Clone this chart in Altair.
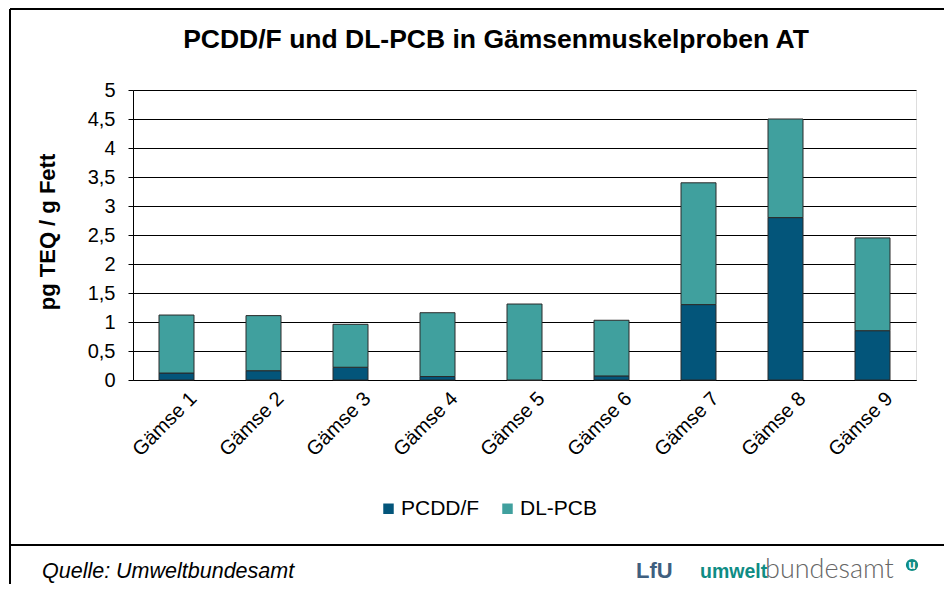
import altair as alt
import pandas as pd

categories = ["Gämse 1", "Gämse 2", "Gämse 3", "Gämse 4", "Gämse 5",
              "Gämse 6", "Gämse 7", "Gämse 8", "Gämse 9"]
pcdd_f = [0.12, 0.16, 0.22, 0.06, 0.0, 0.07, 1.30, 2.80, 0.85]
dl_pcb = [1.00, 0.95, 0.74, 1.10, 1.31, 0.96, 2.10, 1.70, 1.60]
series = ["PCDD/F", "DL-PCB"]
colors = ["#03557A", "#40A09E"]
y_ticks = [0, 0.5, 1, 1.5, 2, 2.5, 3, 3.5, 4, 4.5, 5]

rows = []
for c, a, b in zip(categories, pcdd_f, dl_pcb):
    rows.append({"cat": c, "series": "PCDD/F", "value": a, "ord": 0})
    rows.append({"cat": c, "series": "DL-PCB", "value": b, "ord": 1})
df = pd.DataFrame(rows)

FONT = "Liberation Sans"
W, H = 783, 290
PAD_L, PAD_T = 125, 82
TOT_W, TOT_H = 936, 576
PAD_R = TOT_W - PAD_L - W
PAD_B = TOT_H - PAD_T - H

bars = alt.Chart(df).mark_bar(size=35, stroke="#2a2a2a", strokeWidth=1).encode(
    x=alt.X("cat:N", sort=categories, title=None,
            axis=alt.Axis(labelAngle=-45, labelFont=FONT, labelFontSize=20,
                          labelColor="black", ticks=False, domainColor="black",
                          labelPadding=8, labelOffset=10)),
    y=alt.Y("value:Q", stack="zero", title=None,
            scale=alt.Scale(domain=[0, 5], nice=False),
            axis=alt.Axis(values=y_ticks, labelFont=FONT, labelFontSize=20,
                          labelColor="black",
                          labelExpr="replace(toString(datum.value), '.', ',')",
                          gridColor="black", gridWidth=1, domainColor="black",
                          tickColor="black", tickSize=5, labelPadding=13)),
    color=alt.Color("series:N", sort=series,
                    scale=alt.Scale(domain=series, range=colors),
                    legend=alt.Legend(title=None, orient="none", direction="horizontal",
                                      legendX=245, legendY=408,
                                      labelFont=FONT, labelFontSize=21, labelColor="black",
                                      symbolType="square", symbolSize=110,
                                      symbolStrokeWidth=0, columnPadding=17,
                                      labelOffset=2)),
    order=alt.Order("ord:Q", sort="ascending"),
)

one = pd.DataFrame({"k": [0]})

def txt(text, x, y, size, weight="normal", style="normal", color="black",
        align="left", angle=0, baseline="alphabetic", font=FONT):
    return alt.Chart(one).mark_text(
        text=text, font=font, fontSize=size, fontWeight=weight, fontStyle=style,
        color=color, align=align, angle=angle, baseline=baseline
    ).encode(x=alt.value(x), y=alt.value(y))

def rule(x, x2, y, y2, w=2):
    return alt.Chart(one).mark_rule(color="black", strokeWidth=w).encode(
        x=alt.value(x), x2=alt.value(x2), y=alt.value(y), y2=alt.value(y2))

ox, oy = 133, 90  # page coords of plot origin

layers = [
    bars,
    txt("PCDD/F und DL-PCB in Gämsenmuskelproben AT", 496 - ox, 48 - oy, 26.5,
        weight="bold", align="center"),
    txt("pg TEQ / g Fett", 48 - ox, 232 - oy, 22, weight="bold", align="center",
        angle=270, baseline="middle"),
    txt("Quelle: Umweltbundesamt", 42 - ox, 578 - oy, 21.5, style="italic"),
    txt("LfU", 636 - ox, 578 - oy, 22, weight="bold", color="#3F5F7F"),
    txt("umwelt", 700 - ox, 578 - oy, 19.5, weight="bold", color="#0E8C84"),
    txt("bundesamt", 765 - ox, 578 - oy, 27, weight=300, color="#666666", font="Lato"),
    alt.Chart(one).mark_point(filled=True, shape="circle", size=150, color="#0E8C84",
                              opacity=1).encode(x=alt.value(912 - ox), y=alt.value(565 - oy)),
    txt("u", 912 - ox, 565 - oy, 12, weight="bold", color="white", align="center",
        baseline="middle"),
    rule(10 - ox, 952 - ox, 9 - oy, 9 - oy),
    rule(10 - ox, 10 - ox, 9 - oy, 600 - oy),
    rule(10 - ox, 952 - ox, 545 - oy, 545 - oy),
]

chart = alt.layer(*layers).properties(
    width=W, height=H,
    autosize=alt.AutoSizeParams(type="none"),
    padding={"left": PAD_L, "top": PAD_T, "right": PAD_R, "bottom": PAD_B},
).configure_view(stroke="black", strokeWidth=1).configure(background="white")

chart.save("out.html", embed_options={"renderer": "svg", "actions": False})
